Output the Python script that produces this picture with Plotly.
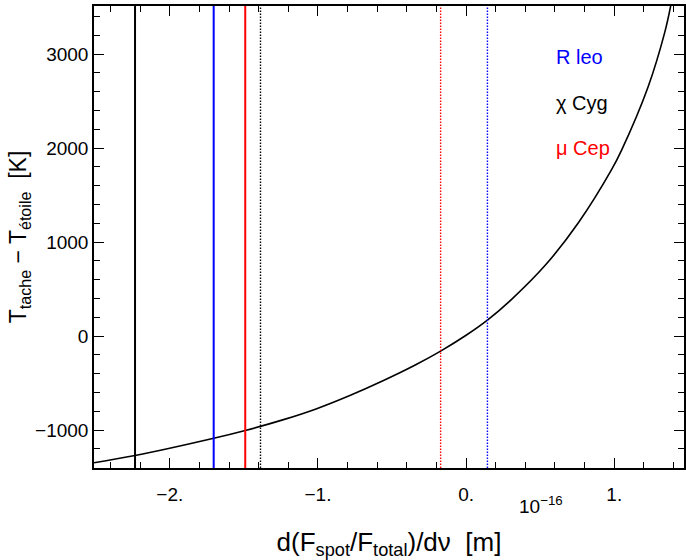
import plotly.graph_objects as go

# Curve: d(F_spot/F_total)/dnu [1e-16 m] vs T_tache - T_etoile [K]
deriv = [-2.512, -2.235, -1.704, -1.491, -1.238, -1.013, -0.789, -0.565,
         -0.340, -0.172, 0.0, 0.146, 0.309, 0.534, 0.758, 0.982, 1.049,
         1.229, 1.341, 1.382]
dtemp = [-1348, -1272, -1088, -1005, -892, -775, -635, -478,
         -305, -160, 8, 172, 393, 752, 1205, 1770, 1975,
         2652, 3230, 3520]

# Vertical markers (solid and dotted), per star
stars = ["R leo", "χ Cyg", "μ Cep"]
star_colors = ["#0000ff", "#000000", "#ff0000"]
solid_x = [-1.704, -2.235, -1.491]
dotted_x = [0.144, -1.388, -0.172]

x_tickvals = [-2, -1, 0, 1]
x_ticktext = ["−2.", "−1.", "0.", "1."]
y_tickvals = [-1000, 0, 1000, 2000, 3000]
y_ticktext = ["−1000", "0", "1000", "2000", "3000"]

FONT = "Liberation Sans, Arial, Helvetica, sans-serif"

fig = go.Figure()

for xs, col in zip(solid_x, star_colors):
    fig.add_vline(x=xs, line=dict(color=col, width=2))
for xd, col in zip(dotted_x, star_colors):
    fig.add_vline(x=xd, line=dict(color=col, width=1.4, dash="1.5px,1.5px"))

fig.add_trace(go.Scatter(x=deriv, y=dtemp, mode="lines",
                         line=dict(color="black", width=1.6, shape="spline", smoothing=1.0),
                         showlegend=False, hoverinfo="skip"))

leg_y = [0.8896, 0.790, 0.692]
for name, col, yy in zip(stars, star_colors, leg_y):
    fig.add_annotation(text=name, x=0.780, y=yy, xref="paper", yref="paper",
                       xanchor="left", yanchor="middle", showarrow=False,
                       font=dict(color=col, size=20, family=FONT))

fig.add_annotation(text="10<sup>−16</sup>", x=0.757, y=-0.080, xref="paper", yref="paper",
                   xanchor="center", yanchor="middle", showarrow=False,
                   font=dict(color="black", size=19, family=FONT))

axis_common = dict(showline=True, linecolor="black", linewidth=1.5, mirror="ticks",
                   ticks="inside", tickcolor="black", tickwidth=1.3, ticklen=10,
                   showgrid=False, zeroline=False,
                   tickfont=dict(size=19, family=FONT, color="black"))

fig.update_layout(
    width=686, height=560,
    margin=dict(l=94, r=0, t=6, b=92),
    paper_bgcolor="white", plot_bgcolor="white",
    font=dict(family=FONT, color="black"),
    xaxis=dict(range=[-2.512, 1.471], tickvals=x_tickvals, ticktext=x_ticktext,
               ticklabelstandoff=8,
               minor=dict(dtick=0.2, tick0=0, ticks="inside", ticklen=6, tickcolor="black", tickwidth=1.2),
               title=dict(text="d(F<sub>spot</sub>/F<sub>total</sub>)/dν  [m]",
                          font=dict(size=26, family=FONT), standoff=30),
               **axis_common),
    yaxis=dict(range=[-1404, 3511], tickvals=y_tickvals, ticktext=y_ticktext,
               minor=dict(dtick=200, tick0=0, ticks="inside", ticklen=6, tickcolor="black", tickwidth=1.2),
               title=dict(text="T<sub>tache</sub> − T<sub>étoile</sub>  [K]",
                          font=dict(size=23, family=FONT), standoff=2),
               **axis_common),
)

fig.write_html("out.html", config={"displayModeBar": False},
               post_script="document.body.style.margin='0';")
